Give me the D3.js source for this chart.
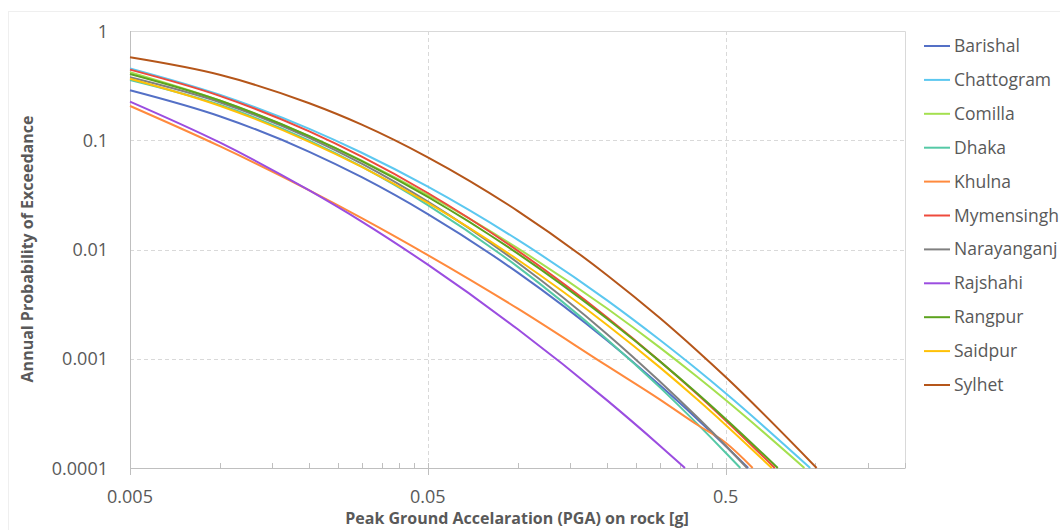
<!DOCTYPE html>
<html>
<head>
<meta charset="utf-8">
<script src="https://cdn.jsdelivr.net/npm/d3@7"></script>
<style>
  body { margin: 0; background: #fff; }
  svg text { font-family: "Open Sans", Lato, sans-serif; fill: #595959; }
</style>
</head>
<body>
<svg id="chart" width="1060" height="530"></svg>
<script>
// PGA levels (g) where each hazard curve was read
const pga = [0.005, 0.01, 0.02, 0.03, 0.05, 0.1, 0.2, 0.3, 0.4, 0.5];

const barishal    = [0.287, 0.166, 0.0784, 0.0459, 0.0211, 0.00617, 0.00147, 0.000574, 0.000283, 0.000159];
const chattogram  = [0.455, 0.261, 0.127, 0.0768, 0.0376, 0.0123, 0.00342, 0.00149, 0.0008, 0.000483];
const comilla     = [0.42, 0.231, 0.109, 0.0652, 0.0316, 0.0103, 0.00288, 0.00127, 0.000687, 0.000419];
const dhaka       = [0.356, 0.211, 0.0993, 0.0573, 0.0255, 0.00697, 0.0015, 0.00055, 0.000256, 0.000138];
const khulna      = [0.206, 0.0882, 0.0348, 0.0194, 0.0089, 0.00289, 0.00086, 0.000425, 0.00025, 0.00017];
const mymensingh  = [0.443, 0.255, 0.1205, 0.0708, 0.0329, 0.00978, 0.00239, 0.000954, 0.000477, 0.000272];
const narayanganj = [0.377, 0.223, 0.105, 0.061, 0.0274, 0.0076, 0.00168, 0.000622, 0.000294, 0.00016];
const rajshahi    = [0.226, 0.0955, 0.0347, 0.018, 0.00726, 0.00187, 0.000416, 0.000161, null, null];
const rangpur     = [0.404, 0.231, 0.109, 0.0645, 0.0303, 0.00922, 0.00232, 0.000951, 0.000485, 0.000281];
const saidpur     = [0.366, 0.207, 0.0968, 0.057, 0.0267, 0.0081, 0.00204, 0.000838, 0.000428, 0.000248];
const sylhet      = [0.574, 0.397, 0.218, 0.139, 0.0698, 0.0226, 0.00582, 0.00237, 0.00119, 0.00068];

// PGA at which each curve reaches 1e-4 (bottom of the chart)
const pgaAtFloor = [0.595, 0.961, 0.919, 0.56, 0.616, 0.731, 0.59, 0.365, 0.748, 0.714, 1.01];

const cities = ["Barishal", "Chattogram", "Comilla", "Dhaka", "Khulna", "Mymensingh",
  "Narayanganj", "Rajshahi", "Rangpur", "Saidpur", "Sylhet"];
const cityValues = [barishal, chattogram, comilla, dhaka, khulna, mymensingh,
  narayanganj, rajshahi, rangpur, saidpur, sylhet];
const colors = ["#5470c6", "#5cc8f0", "#a4e04f", "#55c9a6", "#ff8a3d", "#ee4a3c",
  "#808080", "#9b4de0", "#5ca31e", "#ffc107", "#b5561a"];

const xMajor = [0.005, 0.05, 0.5];
const yTicks = [1, 0.1, 0.01, 0.001, 0.0001];
const yTickLabels = ["1", "0.1", "0.01", "0.001", "0.0001"];
const xTickLabels = ["0.005", "0.05", "0.5"];
const probFloor = 0.0001;

const svg = d3.select("#chart");
const plot = { left: 130, right: 905, top: 31, bottom: 468 };

const x = d3.scaleLog().domain([0.005, 2]).range([plot.left, plot.right]);
const y = d3.scaleLog().domain([0.0001, 1]).range([plot.bottom, plot.top]);

// faint outer chart border
svg.append("rect")
  .attr("x", 8.5).attr("y", 11.5)
  .attr("width", 1100).attr("height", 600)
  .attr("fill", "none").attr("stroke", "#efefef");

// grid
const grid = svg.append("g").attr("stroke", "#d9d9d9").attr("stroke-dasharray", "4 3");
grid.selectAll("line.h")
  .data(yTicks.filter(d => d < 1 && d > 0.0001))
  .join("line")
  .attr("class", "h")
  .attr("x1", plot.left).attr("x2", plot.right)
  .attr("y1", d => Math.round(y(d)) + 0.5).attr("y2", d => Math.round(y(d)) + 0.5);
grid.selectAll("line.v")
  .data(xMajor.slice(1))
  .join("line")
  .attr("class", "v")
  .attr("y1", plot.top).attr("y2", plot.bottom)
  .attr("x1", d => Math.round(x(d)) + 0.5).attr("x2", d => Math.round(x(d)) + 0.5);

// plot frame (top / right)
svg.append("path")
  .attr("d", `M${plot.left},${plot.top + 0.5}H${plot.right + 0.5}V${plot.bottom}`)
  .attr("fill", "none").attr("stroke", "#d9d9d9");

// axes
const minorTicks = [];
xMajor.forEach(d => {
  for (let k = 2; k <= 9; k++) if (d * k <= 2.0001) minorTicks.push(d * k);
});

const xAxis = svg.append("g").attr("transform", `translate(0,${plot.bottom})`);
xAxis.append("line").attr("x1", plot.left).attr("x2", plot.right + 0.5).attr("y1", 0.5).attr("y2", 0.5)
  .attr("stroke", "#bfbfbf");
xAxis.selectAll("line.minor")
  .data(minorTicks)
  .join("line")
  .attr("class", "minor")
  .attr("x1", d => Math.round(x(d)) + 0.5).attr("x2", d => Math.round(x(d)) + 0.5)
  .attr("y1", -5).attr("y2", 0)
  .attr("stroke", "#bfbfbf");
xAxis.selectAll("line.major")
  .data(xMajor)
  .join("line")
  .attr("class", "major")
  .attr("x1", d => Math.round(x(d)) + 0.5).attr("x2", d => Math.round(x(d)) + 0.5)
  .attr("y1", -5).attr("y2", 7)
  .attr("stroke", "#bfbfbf");
xAxis.selectAll("text")
  .data(xMajor)
  .join("text")
  .attr("x", d => x(d)).attr("y", 35)
  .attr("text-anchor", "middle")
  .style("font-size", "18px")
  .text((d, i) => xTickLabels[i]);

svg.append("line")
  .attr("x1", plot.left + 0.5).attr("x2", plot.left + 0.5)
  .attr("y1", plot.top).attr("y2", plot.bottom + 7)
  .attr("stroke", "#bfbfbf");

svg.append("g").selectAll("text")
  .data(yTicks)
  .join("text")
  .attr("x", 108).attr("y", d => y(d) + 6.5)
  .attr("text-anchor", "end")
  .style("font-size", "18px")
  .text((d, i) => yTickLabels[i]);

// axis titles
svg.append("text")
  .attr("x", 517).attr("y", 524)
  .attr("text-anchor", "middle")
  .style("font-size", "16px").style("font-weight", "bold")
  .text("Peak Ground Accelaration (PGA) on rock [g]");

svg.append("text")
  .attr("transform", "translate(33,249) rotate(-90)")
  .attr("text-anchor", "middle")
  .style("font-size", "16px").style("font-weight", "bold")
  .text("Annual Probability of Exceedance");

// curves
const series = cities.map((name, i) => {
  const pts = pga.map((p, j) => [p, cityValues[i][j]])
    .filter(d => d[1] != null && d[0] < pgaAtFloor[i]);
  pts.push([pgaAtFloor[i], probFloor]);
  return { name, color: colors[i], pts };
});

const line = d3.line()
  .x(d => x(d[0]))
  .y(d => y(d[1]))
  .curve(d3.curveMonotoneX);

svg.append("g").selectAll("path")
  .data(series)
  .join("path")
  .attr("d", d => line(d.pts))
  .attr("fill", "none")
  .attr("stroke", d => d.color)
  .attr("stroke-width", 2)
  .attr("stroke-linejoin", "round");

// legend
const legend = svg.append("g").attr("transform", "translate(924,46)");
const item = legend.selectAll("g")
  .data(series)
  .join("g")
  .attr("transform", (d, i) => `translate(0,${i * 33.9})`);
item.append("line")
  .attr("x1", 0).attr("x2", 26)
  .attr("stroke", d => d.color).attr("stroke-width", 2);
item.append("text")
  .attr("x", 30).attr("y", 6)
  .style("font-size", "17.5px")
  .text(d => d.name);
</script>
</body>
</html>
